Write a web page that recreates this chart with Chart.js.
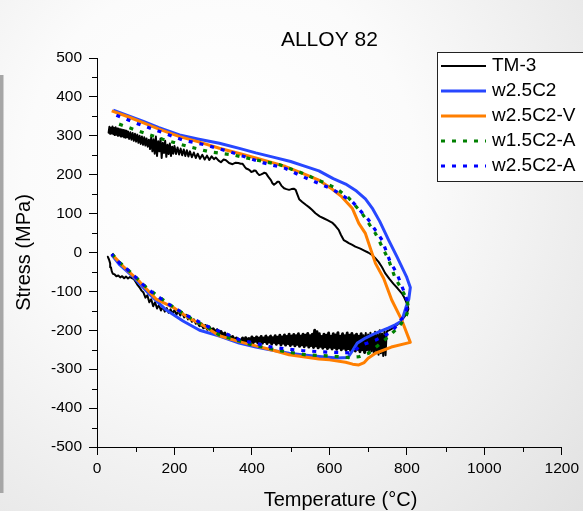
<!DOCTYPE html>
<html>
<head>
<meta charset="utf-8">
<script src="https://cdn.jsdelivr.net/npm/chart.js@4"></script>
<style>
  body { margin: 0; background: #fff; }
  canvas { display: block; }
</style>
</head>
<body>
<canvas id="chart" width="583" height="511"></canvas>
<script>
// --- data (temperature in C, stress in MPa) ---
const seriesNames = ['TM-3', 'w2.5C2', 'w2.5C2-V', 'w1.5C2-A', 'w2.5C2-A'];

const xTicks = [0, 200, 400, 600, 800, 1000, 1200];
const yTicks = [-500, -400, -300, -200, -100, 0, 100, 200, 300, 400, 500];
const xMinor = [100, 300, 500, 700, 900, 1100];
const yMinor = [-450, -350, -250, -150, -50, 50, 150, 250, 350, 450];

// TM-3 (measured, noisy)
const tm3T = [
  30, 32, 34, 36, 38, 40, 42, 44, 46, 48, 50, 52, 54, 56, 58, 60, 62, 64, 66, 68, 70, 72, 74, 76, 78, 80,
  83, 86, 89, 92, 95, 98, 101, 104, 107, 110, 113, 116, 119, 122, 125, 128, 131, 134, 137, 140, 143, 146,
  149, 152, 155, 158, 161, 164, 167, 170, 173, 176, 179, 182, 185, 188, 191, 194, 197, 200, 204, 208, 212,
  216, 220, 224, 228, 232, 236, 240, 245, 250, 255, 260, 266, 272, 278, 284, 290, 296,
  302, 307, 314, 320, 327, 333, 341, 350, 358, 365, 371, 376, 381, 385, 390, 394, 398, 402, 406, 410, 414,
  419, 424, 428, 432, 436, 442, 449, 453, 457, 462, 466, 470, 476, 483, 489, 496, 502, 508, 513, 517, 522,
  530, 540, 548, 555, 564, 575, 585, 595, 607, 616, 624, 630, 637, 644, 650, 658, 667, 680, 690, 700, 710,
  718, 727, 736, 744, 755, 765, 776, 787, 793, 798, 802, 804, 800, 793, 785, 776, 766, 756, 748,
  745, 742, 739, 736, 733, 730, 727, 724, 721, 718, 715, 712, 709, 706, 703, 700, 697, 694, 691, 688, 685,
  682, 679, 676, 673, 670, 667, 664, 661, 658, 655, 652, 649, 646, 643, 640, 637, 634, 631, 628, 625, 622,
  619, 616, 613, 610, 607, 604, 601, 598, 595, 592, 589, 586, 583, 580, 577, 574, 571, 568, 565, 562, 559,
  556, 553, 550, 547, 544, 541, 538, 535, 532, 529, 526, 523, 520, 517, 514, 511, 508, 505, 502, 499, 496,
  493, 490, 487, 484, 481, 478, 475, 472, 469, 466, 463, 460, 457, 454, 451, 448, 445, 442, 439, 436, 433,
  430, 427, 424, 421, 418, 415, 412, 409, 406, 403, 400, 396, 392, 388, 384, 380, 376, 372,
  367, 360, 355, 350, 345, 340, 335, 330, 325, 320, 315, 310, 305, 300, 295, 290, 285, 280, 275, 270, 265,
  260, 255, 250, 245, 240, 235, 230, 225, 220, 215, 210, 205, 200, 195, 190, 185, 180, 175, 170, 165, 160,
  155, 150, 145, 140, 135, 130, 125, 120, 115, 110, 105, 100, 95, 90, 85, 80, 75, 70, 65, 60, 55, 50, 45,
  41, 38, 36, 34, 31, 28
];
const tm3S = [
  308, 323, 305, 321, 307, 324, 304, 320, 302, 322, 303, 319, 300, 318, 301, 317, 298, 316, 299, 315, 296, 314, 295, 313, 296, 311,
  292, 309, 290, 307, 287, 305, 285, 303, 282, 300, 279, 298, 277, 296, 275, 293, 272, 290, 266, 296, 260, 291,
  254, 298, 248, 286, 260, 293, 243, 282, 256, 287, 246, 277, 253, 280, 248, 272, 254, 274, 253, 270, 252,
  267, 250, 265, 248, 263, 247, 260, 245, 257, 243, 254, 241, 251, 239, 249, 238, 247,
  240, 244, 236, 232, 239, 237, 230, 227, 231, 230, 228, 228, 221, 216, 214, 212, 207, 208, 211, 210, 204,
  199, 201, 203, 205, 204, 195, 186, 178, 174, 178, 182, 182, 172, 165, 163, 161, 163, 164, 161, 150, 137,
  130, 122, 116, 110, 101, 93, 88, 83, 77, 68, 58, 45, 32, 28, 24, 20, 15, 10, 5, 0, -6,
  -14, -24, -38, -53, -68, -80, -92, -105, -115, -126, -136, -145, -156, -166, -176, -185, -193, -199, -203,
  -264, -203, -266, -208, -259, -200, -263, -210, -256, -204, -261, -212, -254, -206, -259, -211, -252, -207, -257, -214, -250,
  -209, -255, -215, -249, -210, -253, -214, -248, -208, -252, -213, -247, -207, -251, -214, -246, -209, -250, -215, -245, -206,
  -249, -212, -244, -209, -248, -215, -243, -207, -247, -213, -242, -210, -246, -216, -241, -209, -245, -204, -240, -200, -244,
  -210, -239, -214, -243, -208, -238, -213, -242, -210, -237, -215, -241, -209, -236, -214, -240, -211, -235, -215, -239, -210,
  -234, -216, -238, -212, -233, -217, -237, -213, -232, -218, -236, -214, -231, -219, -235, -215, -230, -219, -234, -215, -229,
  -220, -233, -216, -228, -220, -232, -217, -228, -221, -232, -217, -229, -221, -231, -219, -228, -220, -227,
  -225, -220, -226, -216, -222, -212, -218, -207, -213, -203, -209, -199, -205, -196, -201, -192, -197, -188, -193, -184, -188,
  -178, -183, -172, -178, -166, -172, -160, -167, -154, -162, -150, -160, -148, -157, -146, -155, -143, -152, -140, -149, -135,
  -144, -128, -138, -120, -128, -110, -116, -103, -98, -90, -84, -76, -68, -66, -63, -67, -62, -66, -61, -64, -59, -61, -56,
  -55, -48, -38, -28, -18, -11
];
// index range of the dense noisy band at the bottom (drawn a bit heavier)
const tm3BandStart = 186;
const tm3BandEnd = 312;

// w2.5C2
const c2T = [42, 80, 120, 160, 213, 260, 316, 370, 410, 460, 500, 530, 573, 610, 642, 670, 693, 712, 730, 753, 775, 799, 809,
  805, 798, 787, 770, 753, 720, 693, 672, 660, 648, 620, 581, 540, 496, 450, 410, 367, 316, 265, 222, 179, 136, 93, 59, 38];
const c2S = [366, 352, 337, 321, 302, 292, 281, 267, 256, 244, 234, 224, 210, 190, 176, 158, 138, 112, 80, 32, -12, -62, -90,
  -120, -140, -176, -186, -194, -207, -220, -233, -252, -270, -271, -268, -264, -259, -251, -243, -233, -215, -200, -176, -148, -108, -62, -32, -6];

// w2.5C2-V
const c2vT = [38, 80, 120, 160, 213, 260, 316, 370, 410, 460, 487, 539, 573, 607, 630, 659, 676, 693, 719, 740, 761, 787, 809,
  760, 719, 700, 690, 676, 660, 642, 600, 573, 496, 450, 410, 367, 316, 265, 239, 200, 153, 110, 68, 38];
const c2vS = [364, 349, 333, 317, 298, 285, 268, 254, 243, 229, 221, 200, 186, 163, 145, 114, 75, 49, -28, -66, -122, -174, -231,
  -243, -259, -272, -283, -289, -287, -282, -276, -274, -263, -250, -240, -229, -214, -182, -170, -143, -120, -75, -36, -4];

// w1.5C2-A
const c15aT = [57, 110, 170, 230, 290, 350, 400, 470, 530, 590, 616, 650, 684, 719, 753, 770, 783, 800, 805,
  796, 779, 753, 727, 701, 676, 650, 600, 539, 487, 402, 316, 290, 265, 230, 179, 128, 85, 59, 38];
const c15aS = [330, 311, 291, 274, 259, 251, 240, 226, 204, 178, 166, 140, 101, 49, -19, -66, -88, -120, -145,
  -169, -191, -216, -238, -259, -268, -270, -266, -263, -255, -238, -212, -195, -182, -162, -128, -90, -49, -26, -3];

// w2.5C2-A
const c25aT = [50, 102, 162, 222, 282, 342, 428, 487, 522, 607, 659, 701, 736, 757, 774, 796, 804,
  791, 761, 720, 684, 665, 655, 620, 573, 530, 487, 450, 402, 367, 333, 290, 230, 179, 128, 85, 59, 38];
const c25aS = [353, 332, 311, 289, 276, 259, 231, 216, 199, 163, 131, 84, 32, -24, -53, -109, -135,
  -165, -204, -225, -238, -252, -258, -257, -255, -252, -248, -243, -232, -224, -209, -192, -161, -129, -92, -49, -28, -4];

const pts = (t, s) => t.map((v, i) => ({ x: v, y: s[i] }));

const FONT = '"Liberation Sans", Arial, sans-serif';

// achtergrond met lichte verloop, zoals in het origineel
const backdrop = {
  id: 'backdrop',
  beforeDraw(chart) {
    const { ctx, width, height } = chart;
    const g = ctx.createRadialGradient(220, 170, 40, 220, 170, 560);
    g.addColorStop(0, '#ffffff');
    g.addColorStop(0.3, '#fbfbfb');
    g.addColorStop(1, '#dcdcdc');
    ctx.save();
    ctx.fillStyle = g;
    ctx.fillRect(0, 0, width, height);
    ctx.fillStyle = '#a6a6a6';
    ctx.fillRect(0, 75, 3.5, 418);
    ctx.restore();
  }
};

// kleine tussen-ticks op beide assen
const minorTicks = {
  id: 'minorTicks',
  afterDraw(chart) {
    const { ctx, scales: { x, y } } = chart;
    ctx.save();
    ctx.strokeStyle = '#000';
    ctx.lineWidth = 1;
    ctx.beginPath();
    yMinor.forEach(v => {
      const p = Math.round(y.getPixelForValue(v)) + 0.5;
      ctx.moveTo(x.left - 5, p);
      ctx.lineTo(x.left, p);
    });
    xMinor.forEach(v => {
      const p = Math.round(x.getPixelForValue(v)) + 0.5;
      ctx.moveTo(p, y.bottom);
      ctx.lineTo(p, y.bottom + 5);
    });
    ctx.stroke();
    ctx.restore();
  }
};

// legenda in een kader rechtsboven
const boxLegend = {
  id: 'boxLegend',
  afterDraw(chart) {
    const ctx = chart.ctx;
    ctx.save();
    ctx.fillStyle = '#fff';
    ctx.strokeStyle = '#222';
    ctx.lineWidth = 1;
    ctx.fillRect(437.5, 52.5, 160, 129);
    ctx.strokeRect(437.5, 52.5, 160, 129);
    chart.data.datasets.forEach((ds, i) => {
      const yy = 66 + i * 25;
      ctx.beginPath();
      ctx.strokeStyle = ds.borderColor;
      ctx.lineWidth = Math.min(ds.borderWidth, 3);
      ctx.setLineDash(ds.borderDash || []);
      ctx.moveTo(441, yy);
      ctx.lineTo(486, yy);
      ctx.stroke();
      ctx.setLineDash([]);
      ctx.fillStyle = '#000';
      ctx.font = '19px ' + FONT;
      ctx.textBaseline = 'middle';
      ctx.fillText(ds.label, 492, yy);
    });
    ctx.restore();
  }
};

const tickFont = { family: FONT, size: 15.5 };
const plainNumber = v => String(v);

new Chart(document.getElementById('chart'), {
  type: 'scatter',
  data: {
    datasets: [
      {
        label: seriesNames[0], data: pts(tm3T, tm3S), borderColor: '#000000', borderWidth: 2, order: 4,
        borderJoinStyle: 'round', borderCapStyle: 'round',
        segment: {
          borderWidth: c => (c.p0DataIndex >= tm3BandStart && c.p0DataIndex < tm3BandEnd ? 3 : 2)
        }
      },
      { label: seriesNames[1], data: pts(c2T, c2S), borderColor: '#2747ff', borderWidth: 3, order: 3, borderJoinStyle: 'round' },
      { label: seriesNames[2], data: pts(c2vT, c2vS), borderColor: '#ff7f00', borderWidth: 3, order: 2, borderJoinStyle: 'round' },
      { label: seriesNames[3], data: pts(c15aT, c15aS), borderColor: '#008000', borderWidth: 3.2, borderDash: [4, 7], order: 1 },
      { label: seriesNames[4], data: pts(c25aT, c25aS), borderColor: '#0000ff', borderWidth: 3.2, borderDash: [4, 7], order: 0 }
    ].map(ds => ({ ...ds, showLine: true, pointRadius: 0, tension: 0, fill: false }))
  },
  options: {
    responsive: false,
    animation: false,
    layout: { padding: { left: 0, right: 19, top: 0, bottom: 0 } },
    plugins: {
      legend: { display: false },
      tooltip: { enabled: false },
      title: {
        display: true,
        text: 'ALLOY 82',
        color: '#000',
        fullSize: false,
        font: { family: FONT, size: 21, weight: 'normal', lineHeight: 1.2 },
        padding: { top: 27.4, bottom: 5.4 }
      }
    },
    scales: {
      x: {
        type: 'linear',
        min: 0,
        max: 1200,
        afterBuildTicks: s => { s.ticks = xTicks.map(v => ({ value: v })); },
        afterFit: s => { s.height = 64; },
        ticks: { color: '#000', font: tickFont, padding: 4, callback: plainNumber },
        grid: { drawOnChartArea: false, tickLength: 8, tickColor: '#000' },
        border: { color: '#000', width: 1 },
        title: {
          display: true,
          text: '\u00a0\u00a0\u00a0\u00a0Temperature (°C)',
          color: '#000',
          font: { family: FONT, size: 20, lineHeight: 1 },
          padding: { top: 0, bottom: 1 }
        }
      },
      y: {
        type: 'linear',
        min: -500,
        max: 500,
        afterBuildTicks: s => { s.ticks = yTicks.map(v => ({ value: v })); },
        afterFit: s => { s.width = 97; },
        ticks: { color: '#000', font: tickFont, padding: 7, callback: plainNumber },
        grid: { drawOnChartArea: false, tickLength: 8, tickColor: '#000' },
        border: { color: '#000', width: 1 },
        title: {
          display: true,
          text: 'Stress (MPa)',
          color: '#000',
          font: { family: FONT, size: 20, lineHeight: 1 },
          padding: { top: 14, bottom: 0 }
        }
      }
    }
  },
  plugins: [backdrop, minorTicks, boxLegend]
});
</script>
</body>
</html>
